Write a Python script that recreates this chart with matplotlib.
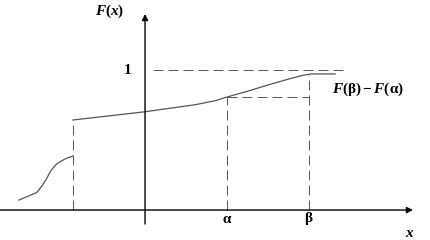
import matplotlib
matplotlib.use("Agg")
import matplotlib.pyplot as plt

plt.rcParams["mathtext.fontset"] = "custom"
plt.rcParams["mathtext.rm"] = "Liberation Serif:bold"
plt.rcParams["mathtext.it"] = "Liberation Serif:italic:bold"
plt.rcParams["mathtext.bf"] = "Liberation Serif:bold"

# distribution function, x in units where alpha = 1, beta = 2
x_left = [-1.54, -1.42, -1.32, -1.26, -1.20, -1.15, -1.08, -1.00, -0.95, -0.88]
F_left = [0.071, 0.100, 0.126, 0.171, 0.226, 0.281, 0.329, 0.357, 0.372, 0.385]
x_right = [-0.88, 0.0, 0.61, 0.85, 1.0, 1.26, 1.50, 1.75, 1.91, 2.03, 2.32]
F_right = [0.643, 0.702, 0.752, 0.780, 0.807, 0.850, 0.893, 0.935, 0.960, 0.972, 0.972]

x_jump = -0.88
alpha = 1.0
beta = 2.0
F_alpha = 0.807
F_beta = 0.972

x_min, x_max = -1.77, 3.49
y_min, y_max = -0.214, 1.5

curve_col = "#555555"
dash_col = "#5e5e5e"
dash = (0, (9.6, 4.8))

fig = plt.figure(figsize=(4.31, 2.40), dpi=100)
ax = fig.add_axes([0, 0, 1, 1])
ax.set_xlim(x_min, x_max)
ax.set_ylim(y_min, y_max)
ax.axis("off")

# axes with arrows
ax.annotate("", xy=(3.27, 0), xytext=(x_min, 0),
            arrowprops=dict(arrowstyle="-|>", color="black", lw=1.0,
                            mutation_scale=9, shrinkA=0, shrinkB=0))
ax.annotate("", xy=(0, 1.40), xytext=(0, -0.10),
            arrowprops=dict(arrowstyle="-|>", color="black", lw=1.0,
                            mutation_scale=9, shrinkA=0, shrinkB=0))

# curve
ax.plot(x_left, F_left, color=curve_col, lw=0.9)
ax.plot(x_right, F_right, color=curve_col, lw=0.9)

# dashed helpers
ax.plot([x_jump, x_jump], [0, F_right[0]], color=dash_col, lw=0.75, linestyle=dash)
ax.plot([0.1, 2.45], [1, 1], color=dash_col, lw=0.75, linestyle=dash)
ax.plot([alpha, alpha], [0, F_alpha], color=dash_col, lw=0.75, linestyle=dash)
ax.plot([beta, beta], [0, F_beta], color=dash_col, lw=0.75, linestyle=dash)
ax.plot([alpha, beta], [F_alpha, F_alpha], color=dash_col, lw=0.75, linestyle=dash)

# labels
fs = 11
ax.text(-0.21, 1, "1", fontsize=fs, ha="center", va="center",
        family="Liberation Serif", weight="bold")
ax.text(-0.43, 1.42, r"$F(x)$", fontsize=fs, ha="center", va="center")
ax.text(alpha, -0.06, r"$\mathrm{\alpha}$", fontsize=fs, ha="center", va="center")
ax.text(beta, -0.06, r"$\mathrm{\beta}$", fontsize=fs, ha="center", va="center")
ax.text(3.23, -0.16, r"$x$", fontsize=fs, ha="center", va="center")
ax.text(2.72, 0.86, r"$F(\mathrm{\beta})-F(\mathrm{\alpha})$", fontsize=fs,
        ha="center", va="center")

fig.savefig("out.png", dpi=100)
